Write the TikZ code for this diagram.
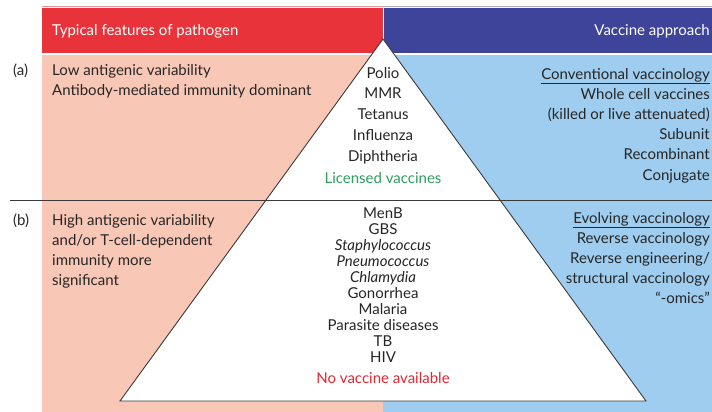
\documentclass[tikz,border=0pt]{standalone}
\usepackage{fontspec}
\setmainfont{Lato}
\usepackage{tikz}

\definecolor{hdrred}{HTML}{E8333A}
\definecolor{hdrblue}{HTML}{3E4499}
\definecolor{bodypink}{HTML}{F9C7B6}
\definecolor{bodyblue}{HTML}{9FCDEF}
\definecolor{licgreen}{HTML}{2F9E5B}
\definecolor{novacred}{HTML}{E52530}
\definecolor{sepgray}{HTML}{3A3A3A}

\tikzset{
    txt/.style={inner sep=0pt, font=\fontsize{15}{17}\selectfont, text=black!85},
    lefttxt/.style={txt, anchor=base west},
    righttxt/.style={txt, anchor=base east},
    tritxt/.style={txt, anchor=base}
}

\begin{document}
\begin{tikzpicture}[x=1pt, y=-1pt]
    \useasboundingbox (0,0) rectangle (712,412);
    \clip (0,0) rectangle (712,412);

    % headers and bodies
    \draw[hdrred!55, line width=0.7pt] (42,6.3) -- (383,6.3);
    \draw[hdrblue!45, line width=0.7pt] (383,6.3) -- (712,6.3);
    \fill[hdrred] (42,8) rectangle (383,53.5);
    \fill[hdrblue] (383,8) rectangle (712,53.5);
    \fill[bodypink] (42,55) rectangle (383,412);
    \fill[bodyblue] (383,55) rectangle (712,412);
    \draw[white, line width=0.5pt] (383,8) -- (383,53.5);

    % triangle
    \coordinate (apex) at (383,39);
    \coordinate (baseL) at (120,401);
    \coordinate (baseR) at (646,401);
    \draw[fill=white, draw=sepgray, line width=0.9pt] (apex) -- (baseR) -- (baseL) -- cycle;

    % row separator
    \coordinate (sepL) at (10,200);
    \coordinate (sepR) at (712,200);
    \draw[sepgray, line width=1pt] (sepL) -- (sepR);

    % header texts
    \node[lefttxt, text=white] (hdrpath) at (52,36) {Typical features of pathogen};
    \node[righttxt, text=white] (hdrvacc) at (710,36) {Vaccine approach};

    % row labels
    \node[lefttxt] (rowa) at (13,76) {(a)};
    \node[lefttxt] (rowb) at (13,225) {(b)};

    % pathogen features
    \foreach \txt [count=\i from 0] in {Low antigenic variability, Antibody-mediated immunity dominant}
        \node[lefttxt] (feata\i) at (52,{76+19.5*\i}) {\txt};
    \foreach \txt [count=\i from 0] in {High antigenic variability, and/or T-cell-dependent, immunity more, significant}
        \node[lefttxt] (featb\i) at (52,{225+20*\i}) {\txt};

    % licensed vaccines
    \foreach \txt [count=\i from 0] in {Polio, MMR, Tetanus, Influenza, Diphtheria}
        \node[tritxt] (lic\i) at (383,{78+20.8*\i}) {\txt};
    \node[tritxt, text=licgreen] (licensed) at (383,183) {Licensed vaccines};

    % no vaccine yet
    \foreach \txt [count=\i from 0] in {MenB, GBS, \textit{Staphylococcus}, \textit{Pneumococcus}, \textit{Chlamydia}, Gonorrhea, Malaria, Parasite diseases, TB, HIV}
        \node[tritxt] (nov\i) at (383,{218+16.1*\i}) {\txt};
    \node[tritxt, text=novacred] (novacc) at (383,383) {No vaccine available};

    % vaccine approaches
    \foreach \txt [count=\i from 0] in {\underline{Conventional vaccinology}, Whole cell vaccines, (killed or live attenuated), Subunit, Recombinant, Conjugate}
        \node[righttxt] (conv\i) at (710,{79+20.2*\i}) {\txt};
    \foreach \txt [count=\i from 0] in {\underline{Evolving vaccinology}, Reverse vaccinology, Reverse engineering/, structural vaccinology, ``-omics''}
        \node[righttxt] (evol\i) at (710,{223+20*\i}) {\txt};
\end{tikzpicture}
\end{document}
